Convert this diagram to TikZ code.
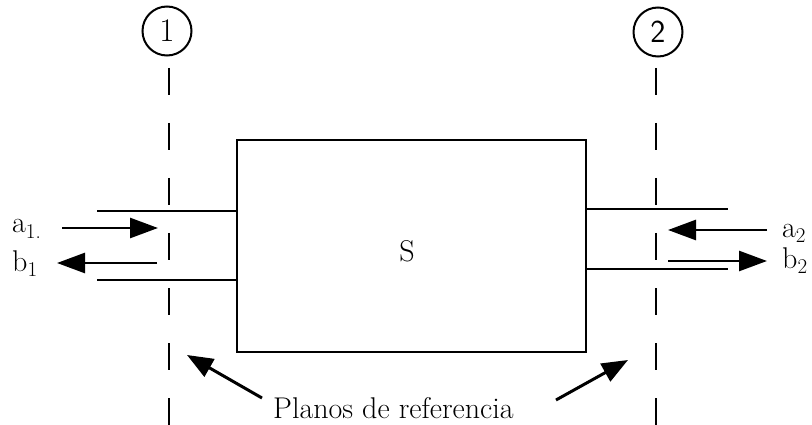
\documentclass[tikz,border=0pt]{standalone}
\usetikzlibrary{arrows.meta}
\begin{document}
\begin{tikzpicture}[x=1pt,y=-1pt,
  stub/.style={line width=2.7pt},
  refplane/.style={line width=2.7pt, dash pattern=on 27pt off 28pt},
  wave/.style={line width=2.7pt,-{Triangle[length=28pt,width=20pt]}},
  pointer/.style={line width=3pt,-{Triangle[length=26pt,width=20pt]}},
  lbl/.style={font=\fontsize{30}{30}\selectfont, inner sep=0pt},
  portnum/.style={circle, draw, line width=2pt, minimum size=49pt, inner sep=0pt, font=\fontsize{33}{33}\selectfont}]
\useasboundingbox (0,0) rectangle (812,425);

% two-port box
\node[draw, line width=2.7pt, minimum width=349pt, minimum height=212pt, inner sep=0pt] (box) at (411.5,246) {};
\node[lbl] (S) at (407,251) {S};

% reference planes
\coordinate (p1top) at (169,68);
\coordinate (p1bot) at (169,425);
\coordinate (p2top) at (656,68);
\coordinate (p2bot) at (656,425);
\draw[refplane] (p1top) -- (p1bot);
\draw[refplane] (p2top) -- (p2bot);
\node[portnum] (c1) at (167,31) {1};
\node[portnum, font=\sffamily\fontsize{32}{32}\selectfont] (c2) at (658,32) {2};

% transmission line stubs
\coordinate (l1) at (97,211);
\coordinate (l2) at (97,280);
\coordinate (r1) at (728,209);
\coordinate (r2) at (728,269);
\draw[stub] (l1) -- (l1 -| box.west);
\draw[stub] (l2) -- (l2 -| box.west);
\draw[stub] (r1 -| box.east) -- (r1);
\draw[stub] (r2 -| box.east) -- (r2);

% wave arrows
\coordinate (a1s) at (62,228);
\coordinate (a1e) at (158,228);
\coordinate (b1s) at (157,263);
\coordinate (b1e) at (57,263);
\coordinate (a2s) at (767,230);
\coordinate (a2e) at (668,230);
\coordinate (b2s) at (668,261);
\coordinate (b2e) at (767,261);
\draw[wave] (a1s) -- (a1e);
\draw[wave] (b1s) -- (b1e);
\draw[wave] (a2s) -- (a2e);
\draw[wave] (b2s) -- (b2e);

\node[lbl, anchor=base west] (la1) at (12,233) {a\textsubscript{1.}};
\node[lbl, anchor=base west] (lb1) at (12,271) {b\textsubscript{1}};
\node[lbl, anchor=base west] (la2) at (782,237) {a\textsubscript{2}};
\node[lbl, anchor=base west] (lb2) at (782,268) {b\textsubscript{2}};

% caption with pointers
\node[lbl, anchor=base west] (planos) at (273,418) {Planos de referencia};
\coordinate (ptl) at (262,398);
\coordinate (ptlt) at (187,355);
\coordinate (ptr) at (556,400);
\coordinate (ptrt) at (628,360);
\draw[pointer] (ptl) -- (ptlt);
\draw[pointer] (ptr) -- (ptrt);
\end{tikzpicture}
\end{document}
